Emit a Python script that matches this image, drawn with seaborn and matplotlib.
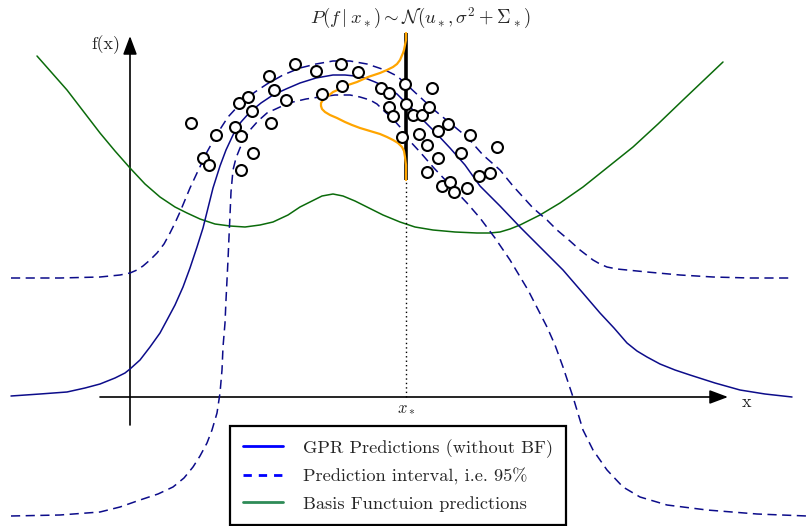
import numpy as np
import pandas as pd
import matplotlib
matplotlib.use("Agg")
import matplotlib.pyplot as plt
import seaborn as sns
from matplotlib.lines import Line2D

# ---------------- data ----------------
obs_x = [61, 86, 73, 79, 111, 123, 105, 111, 109, 118, 122, 139, 144, 141, 156, 165,
         186, 211, 228, 192, 212, 251, 259, 275, 302, 259, 263, 276, 283, 292, 299,
         272, 289, 308, 318, 340, 297, 308, 331, 367, 297, 349, 360, 312, 320, 324, 337]
obs_y = [274, 262, 239, 232, 227, 244, 270, 261, 294, 300, 286, 321, 307, 274, 297, 333,
         326, 333, 325, 303, 311, 309, 304, 313, 309, 290, 281, 293, 282, 282, 290,
         260, 263, 266, 273, 262, 252, 239, 244, 250, 225, 221, 224, 211, 215, 205, 209]

mean_x = [-119, -90, -63, -45, -30, -15, -5, 0, 10, 20, 30, 37, 45, 53, 60, 67, 73, 77,
          83, 90, 96, 103, 111, 120, 131, 143, 156, 170, 186, 203, 215, 225, 235, 245,
          256, 267, 278, 290, 305, 320, 335, 350, 370, 390, 411, 433, 452, 470, 484,
          497, 507, 517, 530, 545, 560, 585, 610, 635, 662]
mean_y = [1, 3, 5, 9, 13, 19, 24, 28, 37, 50, 64, 77, 92, 110, 129, 150, 169, 185,
          209, 231, 247, 262, 275, 285, 294, 302, 308, 314, 319, 322, 322, 321, 319, 315,
          310, 303, 292, 280, 265, 249, 232, 211, 191, 170, 149, 127, 105, 84, 69,
          54, 46, 40, 33, 27, 22, 14, 7, 3, 0]

upper_x = [-119, -70, -30, -10, 0, 7, 13, 20, 27, 34, 40, 45, 50, 55, 60, 67, 77, 87,
           98, 110, 125, 137, 153, 170, 186, 203, 220, 237, 255, 267, 277, 290, 303,
           320, 337, 353, 370, 383, 403, 417, 427, 440, 450, 463, 470, 477, 487, 497,
           517, 550, 583, 620, 662]
upper_y = [119, 119, 120, 122, 124, 127, 131, 137, 144, 153, 164, 174, 185, 197, 209,
           224, 245, 263, 280, 293, 305, 313, 322, 329, 333, 336, 336, 333, 327, 321,
           312, 300, 288, 274, 260, 242, 227, 211, 189, 177, 167, 156, 147, 137, 133,
           130, 128, 127, 125, 122, 120, 119, 119]

lower_x = [-119, -70, -30, -10, 10, 28, 43, 54, 63, 70, 77, 82, 87, 90, 92, 93, 95, 96,
           98, 99, 100, 101, 103, 106, 110, 115, 120, 128, 137, 150, 163, 176, 190, 205,
           220, 230, 240, 247, 253, 262, 270, 277, 290, 303, 320, 337, 350, 365, 380,
           398, 417, 425, 433, 443, 453, 463, 477, 493, 510, 537, 577, 627, 677]
lower_y = [-119, -118, -115, -110, -103, -97, -90, -81, -70, -59, -46, -33, -16, 4, 27,
           50, 74, 97, 137, 160, 182, 205, 227, 239, 249, 259, 267, 276, 284, 290, 295,
           298, 300, 302, 302, 300, 297, 293, 287, 279, 270, 259, 245, 230, 212, 194,
           179, 159, 137, 107, 70, 52, 30, 0, -33, -53, -73, -90, -100, -108, -113,
           -117, -119]

basis_x = [-93, -63, -30, -15, 0, 15, 30, 45, 57, 70, 85, 100, 115, 130, 143, 158, 170,
           182, 192, 203, 213, 225, 237, 253, 270, 285, 303, 325, 347, 360, 370, 380,
           390, 410, 430, 453, 478, 503, 528, 553, 573, 593]
basis_y = [341, 307, 264, 246, 229, 213, 200, 190, 184, 178, 173, 171, 170, 172, 175,
           182, 190, 196, 201, 203, 201, 196, 190, 182, 175, 170, 167, 165, 164, 164,
           165, 168, 172, 182, 194, 210, 230, 250, 273, 297, 316, 335]

pdf_x = [276, 276, 275, 274, 273, 270, 267, 263, 257, 250, 238, 227, 218, 210, 203, 198,
         193, 191, 191, 192, 195, 200, 207, 215, 222, 230, 240, 250, 257, 263, 268, 272,
         274, 275, 276, 276, 276]
pdf_y = [364, 357, 352, 347, 344, 337, 333, 330, 327, 324, 320, 315, 312, 308, 305, 301,
         297, 294, 291, 288, 285, 282, 279, 275, 272, 269, 266, 263, 260, 257, 254, 250,
         246, 240, 232, 227, 217]

x_star = 276
bar_bottom, bar_top = 217, 364

legend_labels = ["GPR Predictions (without BF)", "Prediction interval, i.e. 95%",
                 "Basis Functuion predictions"]

# ---------------- style ----------------
sns.set_style("white")
plt.rcParams["font.family"] = ["cmr10", "DejaVu Serif"]
plt.rcParams["mathtext.fontset"] = "cm"
plt.rcParams["axes.formatter.use_mathtext"] = True

NAVY = "#0c0c8a"
GREEN = "#0b6b0b"
ORANGE = "#ffa500"

fig = plt.figure(figsize=(8.07, 5.26), dpi=100)
ax = fig.add_axes([0, 0, 1, 1])
ax.set_xlim(-130, 677)
ax.set_ylim(-129, 397)
ax.axis("off")

# axes arrows
arrow_kw = dict(arrowstyle="-|>,head_length=0.8,head_width=0.3", color="black",
                lw=1.2, mutation_scale=14, shrinkA=0, shrinkB=0)
ax.annotate("", xy=(598, 0), xytext=(-30, 0), arrowprops=arrow_kw, zorder=1)
ax.annotate("", xy=(0, 361), xytext=(0, -28), arrowprops=arrow_kw, zorder=1)

# curves
sns.lineplot(x=basis_x, y=basis_y, sort=False, estimator=None, color=GREEN, lw=1.1, ax=ax, zorder=2)
sns.lineplot(x=mean_x, y=mean_y, sort=False, estimator=None, color=NAVY, lw=1.1, ax=ax, zorder=2)
sns.lineplot(x=upper_x, y=upper_y, sort=False, estimator=None, color=NAVY, lw=1.1, ax=ax, zorder=2)
ax.lines[-1].set_dashes([6, 3.6])
sns.lineplot(x=lower_x, y=lower_y, sort=False, estimator=None, color=NAVY, lw=1.1, ax=ax, zorder=2)
ax.lines[-1].set_dashes([6, 3.6])

# predictive distribution at x*
ax.plot([x_star, x_star], [0, bar_bottom], color="black", lw=1.0, ls=(0, (1, 2.2)), zorder=2)
ax.plot([x_star, x_star], [bar_bottom, bar_top], color="black", lw=2.6, zorder=3,
        solid_capstyle="butt")
sns.lineplot(x=pdf_x, y=pdf_y, sort=False, estimator=None, color=ORANGE, lw=1.6, ax=ax, zorder=4)

# observations
sns.scatterplot(x=obs_x, y=obs_y, marker="o", s=62, facecolor="white", edgecolor="black",
                linewidth=1.5, ax=ax, zorder=6)

# texts
ax.text(-10, 352, "f(x)", ha="right", va="center", fontsize=13)
ax.text(617, -5, "x", ha="center", va="center", fontsize=13)
ax.text(x_star, -11, r"$x_*$", ha="center", va="center", fontsize=12)
ax.text(290, 379, r"$P(f\mid x_*) \sim \mathcal{N}(u_*, \sigma^2 + \Sigma_*)$",
        ha="center", va="center", fontsize=13.5)

handles = [Line2D([], [], color="blue", lw=2),
           Line2D([], [], color="blue", lw=2, dashes=(3, 2.5)),
           Line2D([], [], color="#2e8b57", lw=2)]
leg = ax.legend(handles, legend_labels, loc="upper left",
                bbox_to_anchor=(230 / 807, 1 - 426 / 526), bbox_transform=fig.transFigure,
                fontsize=13.2, frameon=True, fancybox=False, framealpha=1, edgecolor="black",
                borderaxespad=0, handlelength=2.2, handletextpad=1.1, labelspacing=0.58,
                borderpad=0.7)
leg.get_frame().set_linewidth(1.6)

fig.savefig("out.png", dpi=100)
